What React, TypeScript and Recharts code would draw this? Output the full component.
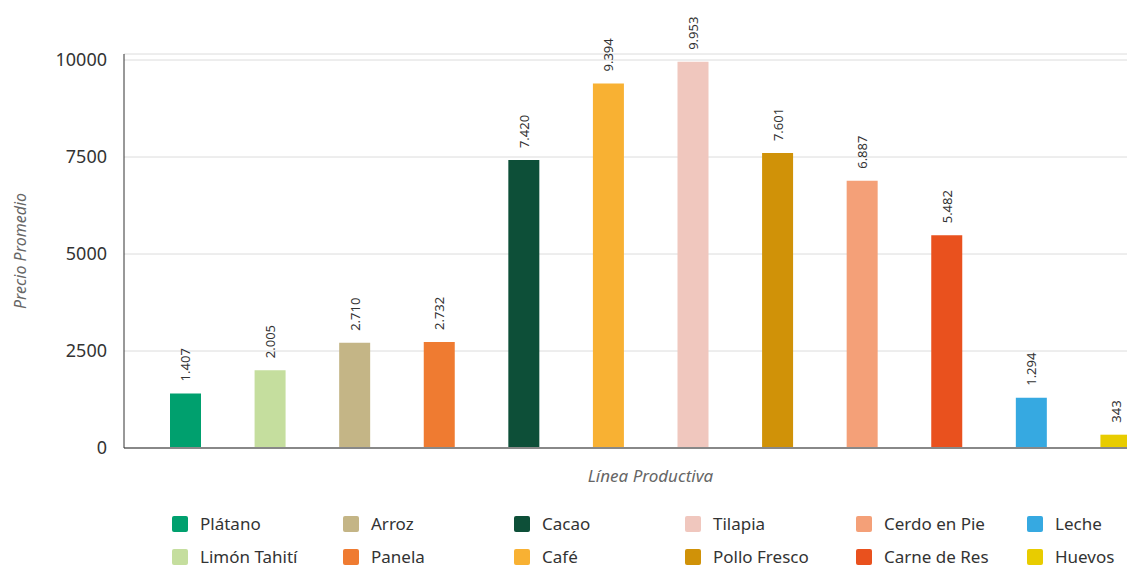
import React from "react";
import { BarChart, Bar, XAxis, YAxis, CartesianGrid, Cell, LabelList } from "recharts";

const PRODUCTS = [
  "Plátano",
  "Limón Tahití",
  "Arroz",
  "Panela",
  "Cacao",
  "Café",
  "Tilapia",
  "Pollo Fresco",
  "Cerdo en Pie",
  "Carne de Res",
  "Leche",
  "Huevos",
];

const PRICES = [1407, 2005, 2710, 2732, 7420, 9394, 9953, 7601, 6887, 5482, 1294, 343];

const COLORS = [
  "#00A06E",
  "#C5DE9E",
  "#C4B586",
  "#EF7B31",
  "#0D4F38",
  "#F8B133",
  "#F0C7BE",
  "#D09208",
  "#F4A078",
  "#E9511E",
  "#36A9E1",
  "#E8CC00",
];

const Y_TICKS = [0, 2500, 5000, 7500, 10000];

const data = PRODUCTS.map((name, i) => ({ name, value: PRICES[i] }));

// thousands with a dot, like 1.407
const fmt = (v: number) => String(v).replace(/\B(?=(\d{3})+(?!\d))/g, ".");

const BarValue = (props: any) => {
  const { x, y, width, value } = props;
  const cx = x + width / 2;
  const cy = y - 12;
  return (
    <text
      x={cx}
      y={cy}
      transform={`rotate(-90, ${cx}, ${cy})`}
      textAnchor="start"
      dominantBaseline="central"
      fontSize={13}
      fill="#333"
    >
      {fmt(value)}
    </text>
  );
};

const App: React.FC = () => {
  return (
    <div
      style={{
        position: "absolute",
        top: 8,
        left: 8,
        width: 1119,
        height: 559,
        overflow: "hidden",
        fontFamily: "'Noto Sans', sans-serif",
      }}
    >
      <BarChart
        width={1173}
        height={480}
        data={data}
        margin={{ top: 46, right: 4, left: 0, bottom: 0 }}
      >
        <CartesianGrid vertical={false} stroke="#dcdcdc" />
        <XAxis
          dataKey="name"
          tick={false}
          tickLine={false}
          height={40}
          axisLine={{ stroke: "#888", strokeWidth: 2 }}
          padding={{ left: 19, right: 19 }}
          label={{
            value: "Línea Productiva",
            position: "insideBottom",
            offset: 6,
            style: { fontStyle: "italic", fill: "#666", fontSize: 17 },
          }}
        />
        <YAxis
          width={116}
          domain={[0, 10155]}
          ticks={Y_TICKS}
          tickLine={false}
          tickMargin={11}
          axisLine={{ stroke: "#333" }}
          tick={{ fill: "#333", fontSize: 18 }}
          label={{
            value: "Precio Promedio",
            angle: -90,
            position: "insideLeft",
            offset: 12,
            style: { textAnchor: "middle", fontStyle: "italic", fill: "#666", fontSize: 16 },
          }}
        />
        <Bar dataKey="value" barSize={31} isAnimationActive={false}>
          {data.map((_, i) => (
            <Cell key={`cell-${i}`} fill={COLORS[i]} />
          ))}
          <LabelList dataKey="value" content={<BarValue />} />
        </Bar>
      </BarChart>
      <div
        style={{
          display: "grid",
          gridTemplateColumns: "repeat(6, 171px)",
          gridTemplateRows: "repeat(2, 33px)",
          gridAutoFlow: "column",
          marginLeft: 164,
          marginTop: 19,
        }}
      >
        {PRODUCTS.map((name, i) => (
          <div key={name} style={{ display: "flex", alignItems: "center", gap: 12 }}>
            <span
              style={{
                width: 16,
                height: 16,
                borderRadius: 2,
                background: COLORS[i],
                display: "inline-block",
                flexShrink: 0,
              }}
            />
            <span style={{ fontSize: 17, color: "#333" }}>{name}</span>
          </div>
        ))}
      </div>
    </div>
  );
};

export default App;
